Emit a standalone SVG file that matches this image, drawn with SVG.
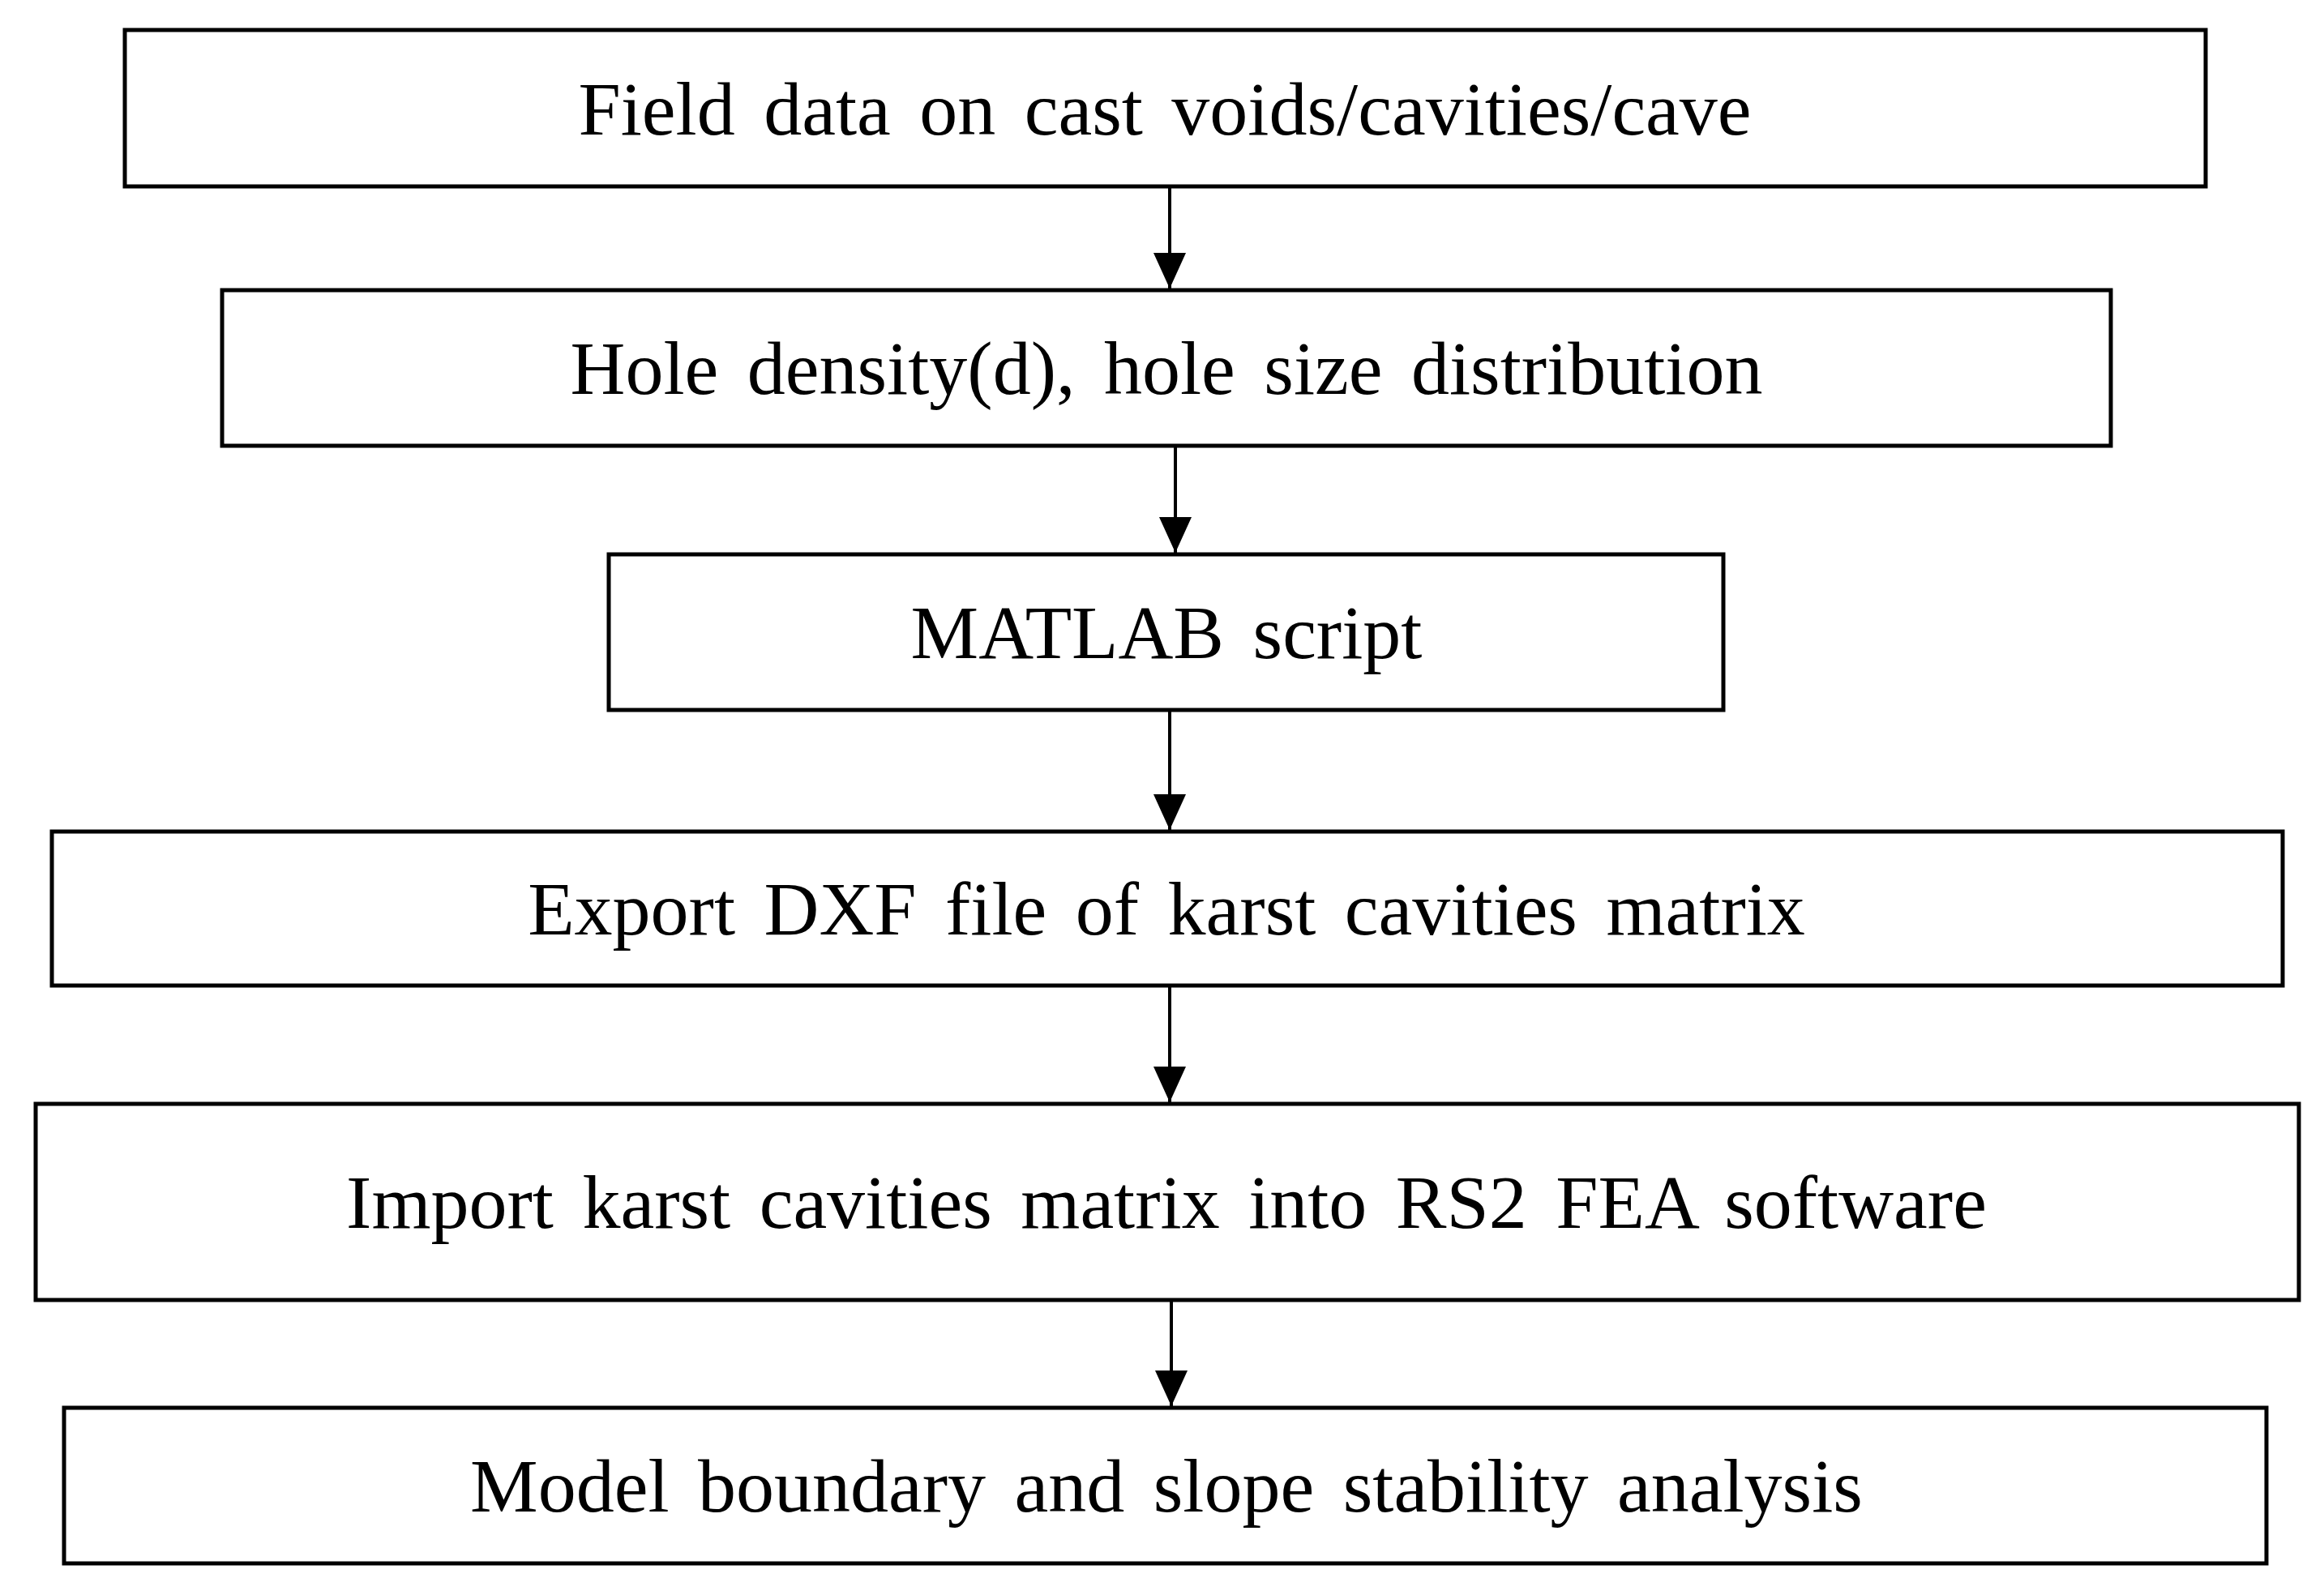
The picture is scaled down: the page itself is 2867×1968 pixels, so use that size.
<svg xmlns="http://www.w3.org/2000/svg" width="2867" height="1968" viewBox="0 0 2867 1968">
<style>
.b{fill:#fff;stroke:#000;stroke-width:5}
.t{font-family:"Liberation Serif","Times New Roman",serif;font-size:94px;word-spacing:12px;text-anchor:middle;fill:#000}
.c{stroke:#000;stroke-width:4;fill:none;marker-end:url(#a)}
</style>
<defs><marker id="a" viewBox="0 0 10 10" refX="10" refY="5" markerWidth="44" markerHeight="40" markerUnits="userSpaceOnUse" orient="auto" preserveAspectRatio="none"><path d="M0,0L10,5L0,10z" fill="#000"/></marker></defs>
<rect width="2867" height="1968" fill="#fff"/>
<g id="n1"><rect class="b" x="154" y="37" width="2567" height="193"/><text class="t" x="1437" y="166">Field data on cast voids/cavities/cave</text></g>
<g id="n2"><rect class="b" x="274" y="358" width="2330" height="192"/><text class="t" x="1439" y="486">Hole density(d), hole size distribution</text></g>
<g id="n3"><rect class="b" x="751" y="684" width="1375" height="192"/><text class="t" x="1439" y="812">MATLAB script</text></g>
<g id="n4"><rect class="b" x="64" y="1026" width="2752" height="190"/><text class="t" x="1439" y="1153">Export DXF file of karst cavities matrix</text></g>
<g id="n5"><rect class="b" x="44" y="1362" width="2792" height="242"/><text class="t" x="1439" y="1515">Import karst cavities matrix into RS2 FEA software</text></g>
<g id="n6"><rect class="b" x="79" y="1737" width="2717" height="192"/><text class="t" x="1439" y="1865">Model boundary and slope stability analysis</text></g>
<g id="connectors">
<path class="c" d="M1443,230V356"/>
<path class="c" d="M1450,550V682"/>
<path class="c" d="M1443,876V1024"/>
<path class="c" d="M1443,1216V1360"/>
<path class="c" d="M1445,1604V1735"/>
</g>
</svg>
